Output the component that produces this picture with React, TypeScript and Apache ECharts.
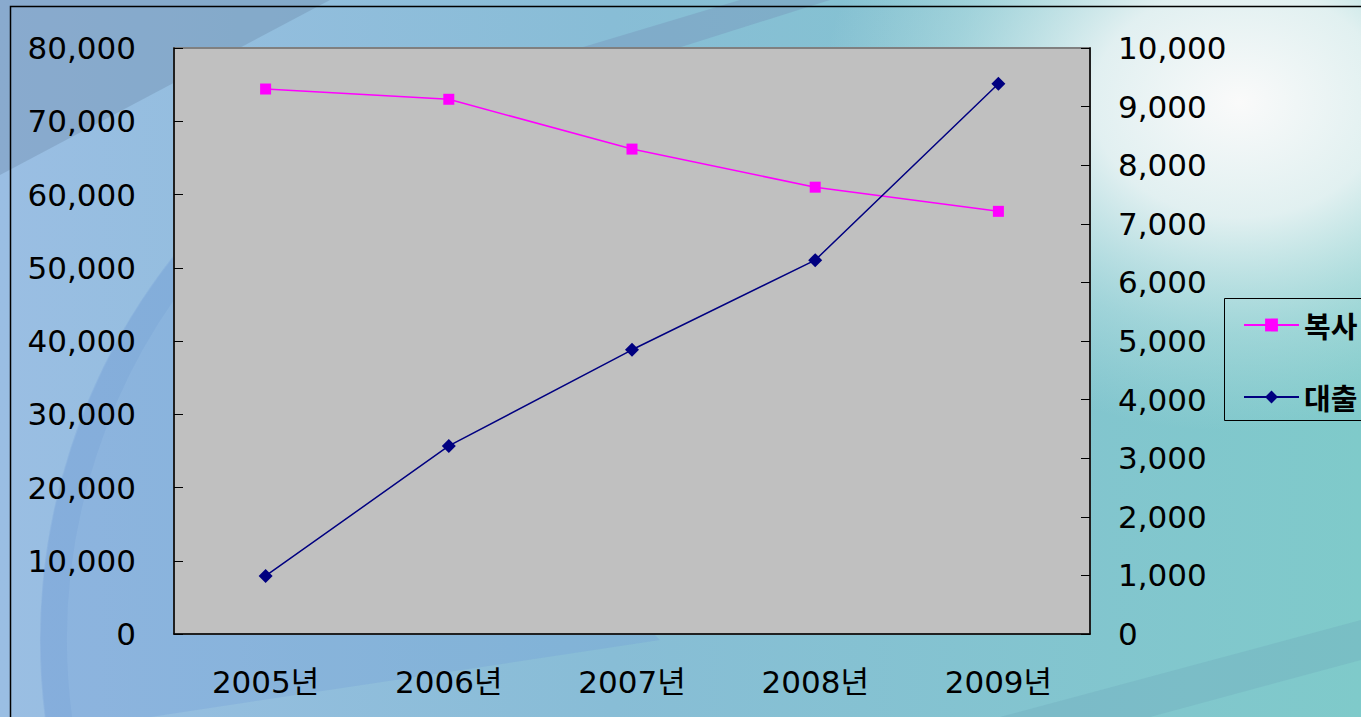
import React, { useEffect, useRef } from "react";
import * as echarts from "echarts";

const categories = ["2005년", "2006년", "2007년", "2008년", "2009년"];
const copyValues = [74400, 73000, 66200, 61000, 57700];
const loanValues = [990, 3210, 4850, 6380, 9390];
const seriesNames = ["복사", "대출"];

const FONT = "'DejaVu Sans', 'Noto Sans CJK KR', sans-serif";
const fmt = (v: number) => v.toLocaleString("en-US");

export default function App() {
  const ref = useRef<HTMLDivElement>(null);
  useEffect(() => {
    if (!ref.current) return;
    const chart = echarts.init(ref.current, undefined, { renderer: "svg" });
    const W = 1361;
    const H = 717;
    const a0 = Math.PI - 0.15;
    const a1 = Math.PI + 0.78;
    chart.setOption({
      animation: false,
      textStyle: { fontFamily: FONT },
      graphic: [
        {
          type: "rect",
          z: -10,
          silent: true,
          shape: { x: 0, y: 0, width: W, height: H },
          style: {
            fill: new echarts.graphic.LinearGradient(0, 0, 1, 0, [
              { offset: 0, color: "#9ABEE3" },
              { offset: 0.45, color: "#88BDD6" },
              { offset: 1, color: "#7FCACA" },
            ]),
          },
        },
        {
          type: "sector",
          z: -9,
          silent: true,
          shape: { cx: 660, cy: 640, r0: 0, r: 620, startAngle: a0, endAngle: a1, clockwise: true },
          style: { fill: "rgba(110,155,215,0.28)" },
        },
        {
          type: "arc",
          z: -9,
          silent: true,
          shape: { cx: 660, cy: 640, r: 606, startAngle: a0, endAngle: a1, clockwise: true },
          style: { stroke: "rgba(100,140,205,0.16)", lineWidth: 26, fill: "none" },
        },
        {
          type: "rect",
          z: -8,
          silent: true,
          shape: { x: 600, y: 0, width: 761, height: 600 },
          style: {
            fill: new echarts.graphic.RadialGradient(0.84, 0.17, 0.55, [
              { offset: 0, color: "rgba(250,250,250,1)" },
              { offset: 0.35, color: "rgba(242,247,247,0.85)" },
              { offset: 0.7, color: "rgba(215,238,238,0.35)" },
              { offset: 1, color: "rgba(200,230,230,0)" },
            ]),
          },
        },
        {
          type: "polygon",
          z: -7,
          silent: true,
          shape: { points: [[0, 0], [330, 0], [0, 175]] },
          style: { fill: "rgba(105,135,165,0.35)" },
        },
        {
          type: "polygon",
          z: -7,
          silent: true,
          shape: { points: [[540, 60], [640, 60], [830, 0], [740, 0]] },
          style: { fill: "rgba(115,140,180,0.35)" },
        },
        {
          type: "polygon",
          z: -7,
          silent: true,
          shape: { points: [[1000, 717], [1361, 620], [1361, 660], [1150, 717]] },
          style: { fill: "rgba(110,165,185,0.3)" },
        },
        {
          type: "rect",
          z: 5,
          silent: true,
          shape: { x: 10.5, y: 6.5, width: 1400, height: 800 },
          style: { fill: "none", stroke: "#000", lineWidth: 1.5 },
        },
        {
          type: "rect",
          z: 5,
          silent: true,
          shape: { x: 1224.5, y: 298.5, width: 300, height: 122 },
          style: { fill: "none", stroke: "#000", lineWidth: 1 },
        },
      ],
      grid: {
        left: 174,
        top: 48,
        right: W - 1090,
        bottom: H - 634,
        show: true,
        backgroundColor: "#C0C0C0",
        borderColor: "#808080",
        borderWidth: 2,
      },
      legend: {
        orient: "vertical",
        left: 1238,
        top: 304,
        itemWidth: 55,
        itemHeight: 16,
        itemGap: 40,
        data: seriesNames,
        textStyle: {
          fontSize: 29,
          color: "#000",
          fontFamily: "'Noto Sans CJK KR', sans-serif",
          fontWeight: "bold",
          lineHeight: 32,
          padding: [0, 0, 0, 0],
        },
      },
      xAxis: {
        type: "category",
        data: categories,
        boundaryGap: true,
        axisLine: { lineStyle: { color: "#000", width: 1.5 } },
        axisTick: { inside: true, length: 9, lineStyle: { color: "#000" } },
        axisLabel: { fontSize: 31, color: "#000", margin: 32, fontFamily: FONT },
        splitLine: { show: false },
      },
      yAxis: [
        {
          type: "value",
          min: 0,
          max: 80000,
          interval: 10000,
          axisLine: { show: true, lineStyle: { color: "#000", width: 1.5 } },
          axisTick: { show: true, inside: true, length: 9, lineStyle: { color: "#000" } },
          axisLabel: { fontSize: 31, color: "#000", margin: 38, formatter: fmt, fontFamily: FONT },
          splitLine: { show: false },
        },
        {
          type: "value",
          min: 0,
          max: 10000,
          interval: 1000,
          position: "right",
          axisLine: { show: true, lineStyle: { color: "#000", width: 1.5 } },
          axisTick: { show: true, inside: true, length: 9, lineStyle: { color: "#000" } },
          axisLabel: { fontSize: 31, color: "#000", margin: 28, formatter: fmt, fontFamily: FONT },
          splitLine: { show: false },
        },
      ],
      series: [
        {
          name: seriesNames[0],
          type: "line",
          yAxisIndex: 0,
          data: copyValues,
          symbol: "rect",
          symbolSize: 11,
          lineStyle: { color: "#FF00FF", width: 1.5 },
          itemStyle: { color: "#FF00FF" },
        },
        {
          name: seriesNames[1],
          type: "line",
          yAxisIndex: 1,
          data: loanValues,
          symbol: "diamond",
          symbolSize: 14,
          lineStyle: { color: "#000080", width: 1.5 },
          itemStyle: { color: "#000080" },
        },
      ],
    });
    return () => chart.dispose();
  }, []);
  return <div ref={ref} style={{ width: 1361, height: 717, position: "absolute", left: 0, top: 0 }} />;
}
